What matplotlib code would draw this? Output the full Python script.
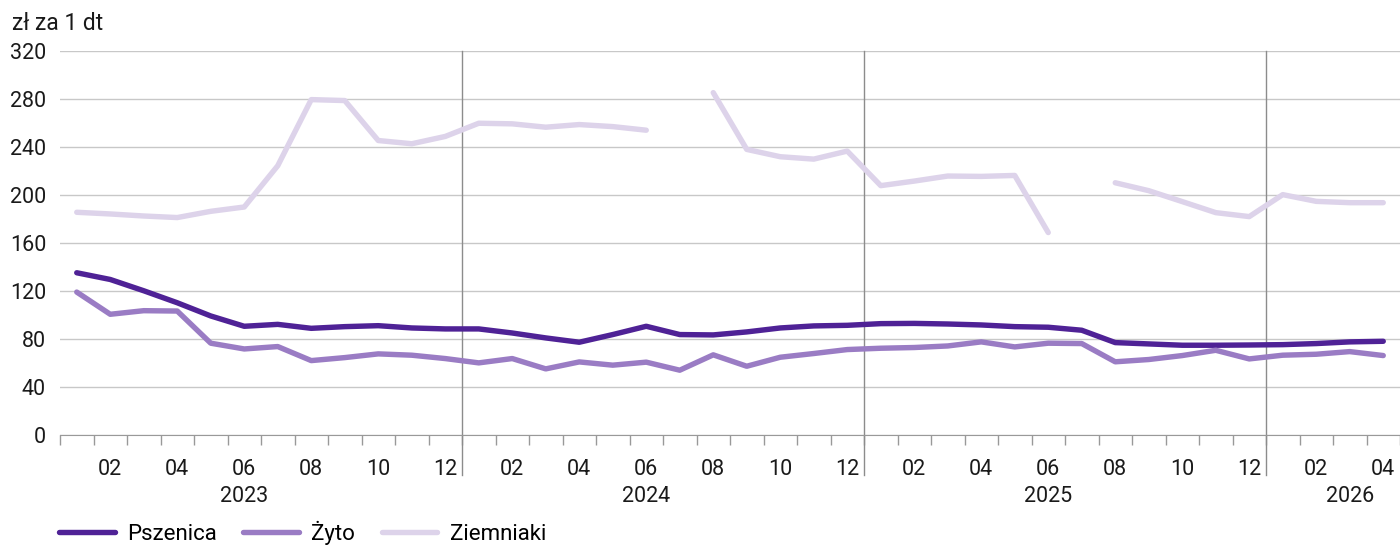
import numpy as np
import matplotlib.pyplot as plt
import matplotlib.transforms as mtransforms

# Monthly prices, Jan 2023 - Apr 2026 (zl za 1 dt)
months = [f'{y}-{m:02d}' for y in (2023, 2024, 2025, 2026) for m in range(1, 13)][:40]

pszenica = [135.2, 129.6, 120.2, 110.2, 99.2, 90.6, 92.2, 88.9, 90.3, 91.1, 89.2, 88.4,
            88.4, 85.0, 80.9, 77.3, 83.7, 90.6, 83.7, 83.4, 85.9, 89.2, 90.9, 91.4,
            92.8, 93.0, 92.5, 91.7, 90.3, 89.8, 87.3, 77.0, 75.9, 74.8, 74.8, 75.0,
            75.3, 76.2, 77.6, 78.1]

zyto = [119.1, 100.6, 103.6, 103.3, 76.5, 71.7, 73.7, 62.0, 64.5, 67.6, 66.5, 63.7,
        60.1, 63.7, 55.1, 60.9, 58.2, 60.7, 54.0, 66.8, 57.3, 64.8, 67.9, 71.2,
        72.3, 72.9, 74.2, 77.6, 73.4, 76.5, 76.2, 61.0, 62.9, 66.2, 70.6, 63.4,
        66.5, 67.3, 69.5, 66.2]

ziemniaki = [185.6, 184.2, 182.5, 181.2, 186.4, 190.0, 224.4, 279.5, 278.7, 245.4, 242.7, 248.8,
             259.8, 259.3, 256.5, 258.7, 257.0, 254.0, np.nan, 285.3, 238.0, 231.9, 229.9, 236.6,
             207.8, 211.6, 215.8, 215.5, 216.3, 168.7, np.nan, 210.2, 203.6, 194.5, 185.3, 182.0,
             200.3, 194.7, 193.6, 193.6]

series = [('Pszenica', pszenica, '#4f2296'),
          ('Żyto', zyto, '#9a7cc4'),
          ('Ziemniaki', ziemniaki, '#ddd3ea')]

year_labels = ['2023', '2024', '2025', '2026']
year_label_pos = [5.5, 17.5, 29.5, 38.5]

plt.rcParams['font.family'] = ['Roboto', 'DejaVu Sans']
plt.rcParams['font.size'] = 15.5

fig = plt.figure(figsize=(14, 5.48), dpi=100)
ax = fig.add_axes([60 / 1400, 1 - 435 / 548, 1340 / 1400, 384 / 548])

x = np.arange(len(months)) + 0.5
for name, vals, col in series:
    ax.plot(x, vals, color=col, lw=3.9, label=name, solid_capstyle='round', zorder=3)

ax.set_xlim(0, 40)
ax.set_ylim(0, 320)
ax.set_yticks(range(0, 321, 40))
ax.grid(axis='y', color='#c8c8c8', lw=1)
ax.set_axisbelow(True)

for s in ['top', 'right', 'left']:
    ax.spines[s].set_visible(False)
ax.spines['bottom'].set_color('#999999')
ax.tick_params(axis='y', length=0, pad=10, labelcolor='#1a1a1a')

# month tick marks at boundaries, labels on even months
ax.set_xticks(np.arange(0, 41), minor=True)
ax.tick_params(axis='x', which='minor', length=7, color='#999999', width=1)
even = [i for i in range(len(months)) if int(months[i][5:]) % 2 == 0]
ax.set_xticks(x[even])
ax.set_xticklabels([months[i][5:] for i in even])
ax.tick_params(axis='x', which='major', length=0, pad=17, labelcolor='#1a1a1a')

# year separators
trans = mtransforms.blended_transform_factory(ax.transData, ax.transAxes)
for b in (12, 24, 36):
    ax.plot([b, b], [-0.105, 1.0], color='#8c8c8c', lw=1, transform=trans,
            clip_on=False, zorder=2)

for lab, pos in zip(year_labels, year_label_pos):
    ax.text(pos, -0.16, lab, transform=trans, ha='center', va='center', color='#1a1a1a')

fig.text(12 / 1400, 1 - 23 / 548, 'zł za 1 dt', ha='left', va='center', color='#1a1a1a',
         fontsize=16.5)

fig.legend(loc='center left', bbox_to_anchor=(0.036, 15 / 548), ncol=3, frameon=False,
           handlelength=2.5, handletextpad=0.55, columnspacing=1.2, borderaxespad=0,
           fontsize=16)

fig.savefig('out.png', dpi=100)
